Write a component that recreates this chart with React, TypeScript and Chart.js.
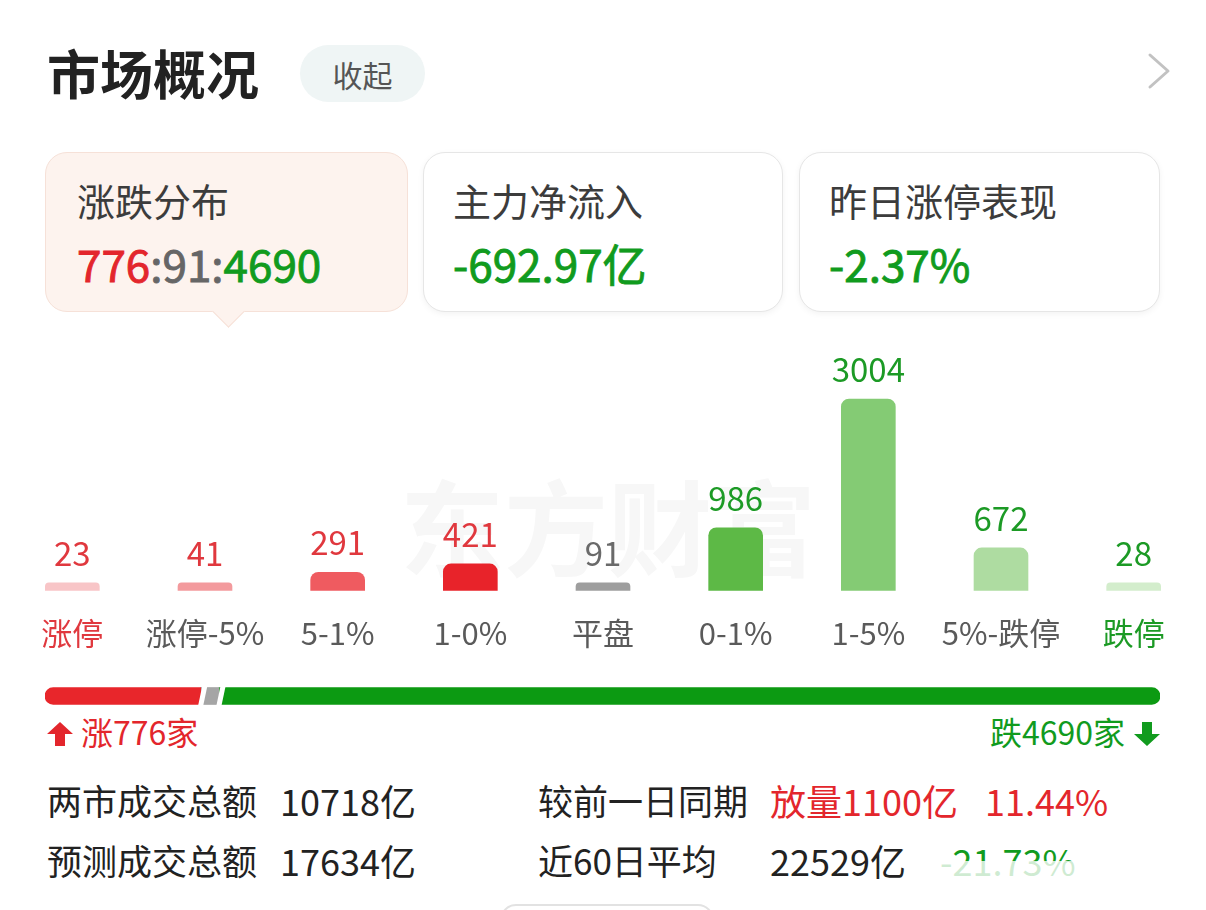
import React, { useEffect, useRef } from "react";
import { Chart, registerables } from "chart.js";

Chart.register(...registerables);

const FONT = '"Noto Sans CJK SC", "Noto Sans", sans-serif';

// Distribution chart data
const categories = ["涨停", "涨停-5%", "5-1%", "1-0%", "平盘", "0-1%", "1-5%", "5%-跌停", "跌停"];
const counts = [23, 41, 291, 421, 91, 986, 3004, 672, 28];
const barColors = ["#f8c5c7", "#f39a9d", "#ef5b60", "#e8232a", "#9e9e9e", "#5db946", "#84cb74", "#aedca1", "#d3edcc"];
const valueColors = ["#e0383e", "#e0383e", "#e0383e", "#e0383e", "#6a6a6a", "#1c9a25", "#1c9a25", "#1c9a25", "#1c9a25"];
const tickColors = ["#e0383e", "#5a5a5a", "#5a5a5a", "#5a5a5a", "#5a5a5a", "#5a5a5a", "#5a5a5a", "#5a5a5a", "#1c9a25"];

// Breadth bar data
const breadthLabels = ["涨", "平", "跌"];
const breadthValues = [776, 91, 4690];
const breadthColors = ["#e8262b", "#a5a5a5", "#0c9a12"];

// Cards
const cardTitles = ["涨跌分布", "主力净流入", "昨日涨停表现"];

const valueLabelPlugin = {
  id: "valueLabels",
  afterDatasetsDraw(chart: any) {
    const ctx = chart.ctx;
    const meta = chart.getDatasetMeta(0);
    ctx.save();
    ctx.font = `33px ${FONT}`;
    ctx.textAlign = "center";
    ctx.textBaseline = "alphabetic";
    meta.data.forEach((bar: any, i: number) => {
      ctx.fillStyle = valueColors[i];
      ctx.fillText(String(counts[i]), bar.x, bar.y - 17);
    });
    ctx.restore();
  },
};

const gapPlugin = {
  id: "slantGaps",
  afterDatasetsDraw(chart: any) {
    const ctx = chart.ctx;
    ctx.save();
    ctx.strokeStyle = "#ffffff";
    ctx.lineWidth = 5;
    for (let d = 0; d < chart.data.datasets.length - 1; d++) {
      const bar = chart.getDatasetMeta(d).data[0];
      const { x, y, height } = bar.getProps(["x", "y", "height"], true);
      const top = y - height / 2 - 1;
      const bottom = y + height / 2 + 1;
      ctx.beginPath();
      ctx.moveTo(x + 4, top);
      ctx.lineTo(x, bottom);
      ctx.stroke();
    }
    ctx.restore();
  },
};

function DistributionChart() {
  const ref = useRef<HTMLCanvasElement>(null);
  useEffect(() => {
    if (!ref.current) return;
    const chart = new Chart(ref.current, {
      type: "bar",
      data: {
        labels: categories,
        datasets: [
          {
            data: counts,
            backgroundColor: barColors,
            borderRadius: 8,
            borderSkipped: "start",
            barThickness: 54,
            minBarLength: 8,
          },
        ],
      },
      options: {
        responsive: false,
        animation: false,
        layout: { padding: { left: 6, right: 6, top: 11, bottom: 0 } },
        plugins: { legend: { display: false }, tooltip: { enabled: false } },
        scales: {
          x: {
            grid: { display: false, drawTicks: false },
            border: { display: false },
            ticks: {
              color: tickColors,
              font: { size: 31, family: FONT },
              padding: 24,
              maxRotation: 0,
              autoSkip: false,
            },
          },
          y: { display: false, min: 0, max: 3755 },
        },
      },
      plugins: [valueLabelPlugin],
    } as any);
    return () => chart.destroy();
  }, []);
  return (
    <canvas
      ref={ref}
      width={1206}
      height={336}
      style={{ position: "absolute", left: 0, top: 340, width: 1206, height: 336 }}
    />
  );
}

function BreadthBar() {
  const ref = useRef<HTMLCanvasElement>(null);
  useEffect(() => {
    if (!ref.current) return;
    const total = breadthValues.reduce((a, b) => a + b, 0);
    const chart = new Chart(ref.current, {
      type: "bar",
      data: {
        labels: [""],
        datasets: breadthValues.map((v, i) => ({
          label: breadthLabels[i],
          data: [v],
          backgroundColor: breadthColors[i],
          barThickness: 17,
          borderSkipped: false,
          borderRadius:
            i === 0
              ? { topLeft: 9, bottomLeft: 9, topRight: 0, bottomRight: 0 }
              : i === breadthValues.length - 1
              ? { topLeft: 0, bottomLeft: 0, topRight: 9, bottomRight: 9 }
              : 0,
        })),
      },
      options: {
        indexAxis: "y",
        responsive: false,
        animation: false,
        layout: { padding: { left: 45, right: 46, top: 0, bottom: 0 } },
        plugins: { legend: { display: false }, tooltip: { enabled: false } },
        scales: {
          x: { display: false, stacked: true, min: 0, max: total },
          y: { display: false, stacked: true },
        },
      },
      plugins: [gapPlugin],
    } as any);
    return () => chart.destroy();
  }, []);
  return (
    <canvas
      ref={ref}
      width={1206}
      height={20}
      style={{ position: "absolute", left: 0, top: 686, width: 1206, height: 20 }}
    />
  );
}

const abs = (left: number, top: number, extra: any = {}) => ({
  position: "absolute" as const,
  left,
  top,
  lineHeight: 1,
  whiteSpace: "nowrap" as const,
  fontFamily: FONT,
  ...extra,
});

export default function App() {
  const RED = "#e3262c";
  const GREEN = "#119b1e";
  const cardBase = {
    position: "absolute" as const,
    top: 152,
    height: 160,
    borderRadius: 22,
    boxSizing: "border-box" as const,
  };
  const valueStyle = { fontSize: 44, fontWeight: 400, WebkitTextStroke: "0.9px currentColor" };
  return (
    <div
      style={{
        position: "absolute",
        left: 0,
        top: 0,
        width: 1206,
        height: 910,
        background: "#ffffff",
        overflow: "hidden",
        fontFamily: FONT,
      }}
    >
      {/* Header */}
      <div style={abs(47, 46, { fontSize: 53, fontWeight: 700, color: "#222" })}>市场概况</div>
      <div
        style={{
          position: "absolute",
          left: 300,
          top: 45,
          width: 125,
          height: 57,
          borderRadius: 29,
          background: "#eff5f5",
          display: "flex",
          alignItems: "center",
          justifyContent: "center",
          fontSize: 30,
          color: "#555",
          fontFamily: FONT,
        }}
      >
        收起
      </div>
      <svg style={{ position: "absolute", left: 1140, top: 50 }} width={40} height={44}>
        <polyline points="10,5 28,21 10,37" fill="none" stroke="#c2c2c2" strokeWidth={3} strokeLinecap="round" strokeLinejoin="round" />
      </svg>

      {/* Cards */}
      <div
        style={{
          ...cardBase,
          left: 45,
          width: 363,
          background: "#fdf3ee",
          border: "1.5px solid #f6e1d8",
        }}
      />
      <div
        style={{
          position: "absolute",
          left: 217,
          top: 300,
          width: 22,
          height: 22,
          background: "#fdf3ee",
          borderRight: "1.5px solid #f6e1d8",
          borderBottom: "1.5px solid #f6e1d8",
          transform: "rotate(45deg)",
        }}
      />
      <div
        style={{
          ...cardBase,
          left: 423,
          width: 360,
          background: "#fff",
          border: "1.5px solid #e6e6e6",
          boxShadow: "0 2px 6px rgba(0,0,0,0.05)",
        }}
      />
      <div
        style={{
          ...cardBase,
          left: 799,
          width: 361,
          background: "#fff",
          border: "1.5px solid #e6e6e6",
          boxShadow: "0 2px 6px rgba(0,0,0,0.05)",
        }}
      />
      <div style={abs(77, 181, { fontSize: 38, color: "#3c3c3c" })}>{cardTitles[0]}</div>
      <div style={abs(453, 181, { fontSize: 38, color: "#3c3c3c" })}>{cardTitles[1]}</div>
      <div style={abs(829, 181, { fontSize: 38, color: "#3c3c3c" })}>{cardTitles[2]}</div>
      <div style={abs(77, 241, valueStyle)}>
        <span style={{ color: RED }}>776</span>
        <span style={{ color: "#666" }}>:91:</span>
        <span style={{ color: GREEN }}>4690</span>
      </div>
      <div style={abs(453, 241, { ...valueStyle, color: GREEN })}>-692.97亿</div>
      <div style={abs(829, 241, { ...valueStyle, color: GREEN })}>-2.37%</div>

      {/* Watermark */}
      <div style={abs(400, 472, { fontSize: 104, fontWeight: 700, color: "#f7f7f7", letterSpacing: 0 })}>东方财富</div>

      <DistributionChart />
      <BreadthBar />

      {/* Up / down counts */}
      <svg style={{ position: "absolute", left: 46, top: 721 }} width={28} height={26}>
        <polygon points="14,1 27,13 19,13 19,25 9,25 9,13 1,13" fill={RED} />
      </svg>
      <div style={abs(81, 715, { fontSize: 32, color: RED })}>涨776家</div>
      <div style={abs(0, 715, { fontSize: 32, color: GREEN, left: "auto", right: 1206 - 1125 })}>跌4690家</div>
      <svg style={{ position: "absolute", left: 1133, top: 721 }} width={28} height={26}>
        <polygon points="14,25 27,13 19,13 19,1 9,1 9,13 1,13" fill={GREEN} />
      </svg>

      {/* Stats */}
      <div style={abs(47, 782, { fontSize: 35, color: "#222" })}>两市成交总额</div>
      <div style={abs(280, 782, { fontSize: 36, color: "#222" })}>10718亿</div>
      <div style={abs(538, 782, { fontSize: 35, color: "#222" })}>较前一日同期</div>
      <div style={abs(770, 782, { fontSize: 36, color: RED })}>放量1100亿</div>
      <div style={abs(985, 782, { fontSize: 36, color: RED })}>11.44%</div>

      <div style={abs(47, 842, { fontSize: 35, color: "#222" })}>预测成交总额</div>
      <div style={abs(280, 842, { fontSize: 36, color: "#222" })}>17634亿</div>
      <div style={abs(538, 842, { fontSize: 35, color: "#222" })}>近60日平均</div>
      <div style={abs(770, 842, { fontSize: 36, color: "#222" })}>22529亿</div>
      <div style={abs(940, 842, { fontSize: 36, color: GREEN })}>-21.73%</div>
      {/* overlay fade (image watermark) */}
      <div
        style={{
          position: "absolute",
          left: 925,
          top: 861,
          width: 270,
          height: 40,
          background: "rgba(255,255,255,0.8)",
        }}
      />
      <div
        style={{
          position: "absolute",
          left: 500,
          top: 904,
          width: 210,
          height: 30,
          borderRadius: 16,
          border: "2px solid #e2e2e2",
        }}
      />
    </div>
  );
}
